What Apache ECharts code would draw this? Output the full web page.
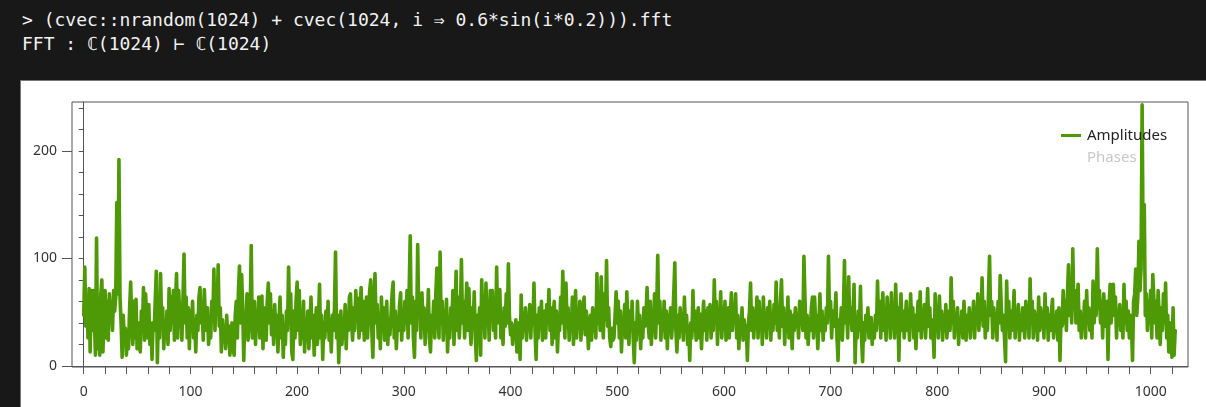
<!DOCTYPE html>
<html><head><meta charset="utf-8">
<script src="https://cdn.jsdelivr.net/npm/echarts@6/dist/echarts.min.js"></script>
<style>
html,body{margin:0;padding:0;width:1206px;height:407px;overflow:hidden;background:#181818;}
#term{position:absolute;left:22px;top:8px;color:#f2f2f2;font-family:"DejaVu Sans Mono",monospace;font-size:18px;line-height:24px;white-space:pre;margin:0;}
#panel{position:absolute;left:20px;top:80px;width:1186px;height:327px;background:#fff;border-top:1px solid #777;border-left:1px solid #777;box-sizing:border-box;}
#chart{position:absolute;left:21px;top:81px;width:1185px;height:326px;}
</style></head>
<body>
<pre id="term">&gt; (cvec::nrandom(1024) + cvec(1024, i ⇒ 0.6*sin(i*0.2))).fft
FFT : ℂ(1024) ⊢ ℂ(1024)</pre>
<div id="panel"></div>
<div id="chart"></div>
<script>
// Amplitudes, index 0..1023
const amplitudes = [
47,92,37,64,26,72,13,70,33,70,40,10,119,16,47,10,67,80,13,51,70,26,60,24,67,47,57,33,70,51,64,152,
67,192,64,40,8,47,26,35,10,33,16,54,78,40,20,60,26,62,16,40,26,13,51,33,73,24,67,43,26,57,20,40,
6,40,33,60,88,3,47,26,86,40,54,16,37,26,51,20,72,33,64,40,70,24,60,86,26,70,47,54,24,62,104,40,
64,26,54,16,51,37,60,26,43,13,47,33,64,73,40,54,24,71,47,33,54,20,37,26,60,43,90,33,67,51,94,37,
54,13,43,26,33,16,47,24,37,10,26,40,16,10,47,60,26,70,93,40,85,54,5,47,33,67,24,40,51,112,26,47,
60,20,51,33,64,26,43,65,16,54,37,24,60,77,40,67,29,51,20,57,33,47,13,40,64,26,47,8,37,20,51,33,
92,40,67,13,6,51,26,60,78,33,70,20,47,26,60,13,37,24,51,16,40,64,26,47,10,37,54,20,43,76,26,47,
6,40,26,51,33,60,24,43,13,47,33,54,106,26,47,3,37,51,20,40,26,57,16,47,33,64,67,40,24,54,33,70,
47,63,26,54,73,33,60,24,43,64,26,51,70,80,33,8,60,86,40,57,26,47,16,64,33,54,24,40,60,20,43,29,
47,67,78,26,51,16,40,33,57,68,24,47,33,60,40,70,26,70,121,40,64,26,8,60,33,113,47,67,26,68,40,54,
20,51,33,71,26,13,47,37,60,26,67,91,47,26,106,40,60,24,51,33,62,13,43,26,54,37,70,20,47,88,33,64,
26,47,99,40,60,26,51,77,33,72,40,20,54,37,69,26,5,47,33,54,10,80,43,60,26,77,40,57,24,70,47,70,
33,51,26,92,40,60,71,26,47,20,54,37,67,40,95,47,29,40,20,37,26,43,13,33,40,6,66,26,47,33,54,24,
47,37,57,26,51,40,77,33,6,47,26,54,35,60,24,43,51,26,57,40,71,33,54,20,47,60,26,51,13,40,33,64,
40,88,47,26,77,37,54,24,47,33,64,20,43,70,26,51,35,60,24,45,54,64,29,51,40,16,37,47,24,54,33,43,
26,86,40,60,33,83,47,26,67,43,98,37,54,26,18,35,24,26,47,69,40,60,26,51,13,40,33,57,26,69,43,20,
51,35,60,26,3,40,24,60,33,47,16,40,26,54,37,47,73,40,26,60,20,43,33,67,26,51,103,40,60,24,47,33,
60,26,51,16,47,37,54,26,43,67,96,33,13,47,26,54,37,43,24,64,33,47,20,37,5,40,26,70,33,51,24,43,
54,26,48,16,40,60,33,51,24,54,40,57,26,47,33,80,40,60,20,51,35,69,26,47,37,60,24,43,54,26,47,68,
33,54,40,67,26,47,16,40,33,54,24,43,26,37,5,40,51,77,33,54,26,47,40,64,26,60,37,51,20,64,33,47,
26,54,40,60,24,47,33,57,40,78,33,51,26,60,80,37,54,20,47,33,64,26,51,40,16,47,33,54,37,47,26,60,
40,51,33,102,64,26,47,20,40,33,54,64,26,64,40,47,16,37,67,33,51,24,43,33,54,40,102,47,60,26,51,37,
47,68,26,5,43,33,54,24,47,98,40,60,26,83,40,54,33,47,76,3,40,26,51,33,74,26,4,40,24,47,33,54,
26,40,45,20,37,26,47,33,79,40,60,26,51,68,33,47,24,64,40,54,26,68,37,47,26,76,40,54,5,47,67,33,
51,26,43,60,33,47,24,67,40,54,26,47,16,40,60,33,69,26,51,40,57,26,47,72,37,54,26,43,33,8,67,40,
54,26,65,37,51,24,47,33,57,26,40,51,33,82,40,60,26,47,37,54,20,43,33,51,26,60,40,24,47,33,54,26,
47,37,60,26,51,40,67,33,54,43,82,37,60,26,51,33,67,102,47,60,26,54,37,47,24,60,40,84,54,33,47,26,
4,79,40,60,26,51,33,47,70,26,51,37,57,24,47,33,54,40,26,60,37,51,26,81,40,60,26,51,33,47,24,64,
33,54,40,47,26,67,37,54,24,47,33,51,62,26,43,33,51,24,54,5,47,37,70,40,60,33,67,94,47,64,40,109,
54,70,40,60,76,33,51,26,47,37,60,26,70,40,54,33,51,26,79,40,60,47,109,54,70,40,60,26,67,47,37,60,
6,54,76,40,60,76,47,64,26,51,40,57,33,47,26,76,40,60,33,51,26,47,37,5,60,67,90,47,65,116,70,90,
243,100,150,47,67,33,60,40,70,26,85,84,40,60,26,70,47,20,54,33,67,40,77,26,47,13,40,26,8,54,10,33
];
const phases = [];
const xTickValues = [];
for (let v = 0; v <= 1020; v += 20) xTickValues.push(v);
const xLabelValues = [0,100,200,300,400,500,600,700,800,900,1000];
const yTickValues = [0,20,40,60,80,100,120,140,160,180,200,220,240];
const yLabelValues = [0,100,200];

const chart = echarts.init(document.getElementById('chart'), null, {renderer:'canvas'});
const axisColor = '#555';
const labelStyle = {color:'#333', fontSize:14, fontFamily:'Noto Sans'};
chart.setOption({
  animation:false,
  backgroundColor:'#fff',
  grid:{left:51, top:21, right:18, bottom:40, show:true, borderColor:axisColor, borderWidth:1, containLabel:false, outerBoundsMode:'none'},
  legend:{
    orient:'vertical', left:1040, top:47, padding:0, itemGap:7, itemWidth:20, itemHeight:3,
    icon:'rect',
    data:[{name:'Amplitudes'}, {name:'Phases', itemStyle:{opacity:0}}],
    selected:{Phases:false},
    textStyle:{color:'#222', fontSize:15, fontFamily:'Noto Sans', padding:[0,0,0,1]},
    inactiveColor:'#c8c8c8'
  },
  xAxis:{
    type:'value', min:-11, max:1035,
    axisLine:{show:true, lineStyle:{color:axisColor}},
    axisTick:{show:true, customValues:xTickValues, length:8, lineStyle:{color:axisColor}},
    axisLabel:{show:true, customValues:xLabelValues, margin:18, formatter:(v)=>String(v), ...labelStyle},
    splitLine:{show:false}
  },
  yAxis:[{
    type:'value', min:-1, max:245.5,
    axisLine:{show:true, lineStyle:{color:axisColor}},
    axisTick:{show:true, customValues:yTickValues, length:5, lineStyle:{color:axisColor}},
    axisLabel:{show:true, customValues:yLabelValues, margin:15, formatter:(v)=>String(v), ...labelStyle},
    splitLine:{show:false}
  },{
    type:'value', min:-1, max:245.5, position:'left',
    axisLine:{show:false},
    axisTick:{show:true, customValues:yLabelValues, length:10, lineStyle:{color:axisColor}},
    axisLabel:{show:false},
    splitLine:{show:false}
  }],
  series:[{
    name:'Amplitudes', type:'line', symbol:'none', showSymbol:false, sampling:null,
    data:amplitudes.map((v,i)=>[i,v]),
    lineStyle:{width:3.6, color:'#4e9a06', join:'round', cap:'round'},
    itemStyle:{color:'#4e9a06'}
  },{
    name:'Phases', type:'line', symbol:'none', data:phases,
    lineStyle:{width:3, color:'#c8c8c8'}, itemStyle:{color:'#c8c8c8'}
  }]
});
</script>
</body></html>
